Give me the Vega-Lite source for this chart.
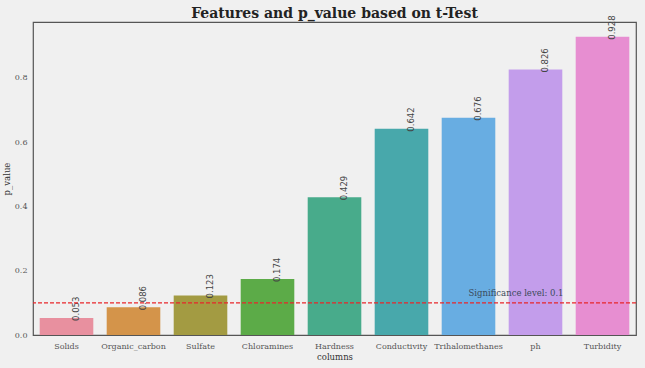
{
  "$schema": "https://vega.github.io/schema/vega-lite/v6.json",
  "width": 603,
  "height": 313,
  "autosize": {"type": "none"},
  "padding": {"left": 33, "top": 22, "right": 9, "bottom": 33},
  "background": "#f0f0f0",
  "title": {"text": "Features and p_value based on t-Test", "font": "DejaVu Serif", "fontSize": 14, "fontWeight": "bold", "color": "#222222", "offset": 4, "dy": 10, "anchor": "middle"},
  "config": {
    "view": {"stroke": "#555555", "strokeWidth": 1.2, "fill": "#f0f0f0"},
    "axis": {"labelFont": "DejaVu Serif", "titleFont": "DejaVu Serif", "labelColor": "#555555", "titleColor": "#333333", "labelFontSize": 8, "titleFontSize": 8.5, "titleFontWeight": "normal", "grid": false, "ticks": false, "domain": false}
  },
  "data": {"values": [
    {"feature": "Solids", "p": 0.053, "label": "0.053"},
    {"feature": "Organic_carbon", "p": 0.086, "label": "0.086"},
    {"feature": "Sulfate", "p": 0.123, "label": "0.123"},
    {"feature": "Chloramines", "p": 0.174, "label": "0.174"},
    {"feature": "Hardness", "p": 0.429, "label": "0.429"},
    {"feature": "Conductivity", "p": 0.642, "label": "0.642"},
    {"feature": "Trihalomethanes", "p": 0.676, "label": "0.676"},
    {"feature": "ph", "p": 0.826, "label": "0.826"},
    {"feature": "Turbidity", "p": 0.928, "label": "0.928"}
  ]},
  "encoding": {
    "x": {"field": "feature", "type": "nominal", "sort": null,
      "scale": {"paddingInner": 0.2, "paddingOuter": 0.1},
      "axis": {"title": "columns", "labelAngle": 0, "labelPadding": 7, "titlePadding": 2}},
    "y": {"field": "p", "type": "quantitative",
      "scale": {"domain": [0, 0.974], "nice": false, "zero": true},
      "axis": {"title": "p_value", "values": [0, 0.2, 0.4, 0.6, 0.8], "format": ".1f", "labelPadding": 6, "titlePadding": 3}}
  },
  "layer": [
    {"mark": {"type": "bar"},
      "encoding": {"color": {"field": "feature", "type": "nominal", "sort": null, "legend": null,
        "scale": {"range": ["#e8909f", "#d4944a", "#a39b42", "#5cab48", "#48ab8b", "#48a8ab", "#68ade2", "#c39deb", "#e78ed1"]}}}},
    {"mark": {"type": "text", "angle": 270, "align": "left", "baseline": "middle", "dx": -3, "dy": 9, "font": "DejaVu Sans", "fontSize": 8.5, "color": "#444444"},
      "encoding": {"text": {"field": "label"}}},
    {"data": {"values": [{"level": 0.1}]},
      "mark": {"type": "rule", "color": "#e8262a", "strokeDash": [4, 2], "strokeWidth": 1.1},
      "encoding": {"y": {"field": "level", "type": "quantitative"}, "x": null}},
    {"data": {"values": [{"feature": "Trihalomethanes", "p": 0.12, "txt": "Significance level: 0.1"}]},
      "mark": {"type": "text", "align": "left", "baseline": "alphabetic", "font": "DejaVu Serif", "fontSize": 8.5, "color": "#3a4a5a"},
      "encoding": {"text": {"field": "txt"}}}
  ]
}
